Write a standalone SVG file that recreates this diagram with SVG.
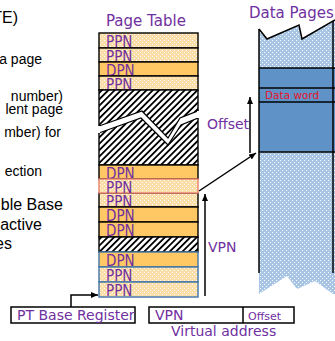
<svg xmlns="http://www.w3.org/2000/svg" width="335" height="341" viewBox="0 0 335 341">
  <style>
    .lbl { font-family: "DejaVu Sans", Verdana, sans-serif; fill: #7030A0; }
    .title { font-size: 15px; }
    .row { font-family: "DejaVu Sans Condensed", "DejaVu Sans", sans-serif; font-size: 15px; fill: #7030A0; }
    .side { font-family: "Liberation Sans", Arial, sans-serif; fill: #000; text-anchor: end; }
    .ppn { fill: url(#dotOrange); stroke: #000; stroke-width: 1.4; }
    .dpn { fill: #FFC864; stroke: #000; stroke-width: 1.4; }
    .blue { stroke: #3F74A8; }
    .pink { stroke: #E8806C; }
    .wire { fill: none; stroke: #000; stroke-width: 1.5; }
    .box { fill: #fff; stroke: #000; stroke-width: 1.5; }
  </style>
  <defs>
    <pattern id="dotOrange" width="4" height="4" patternUnits="userSpaceOnUse">
      <rect width="4" height="4" fill="#FBDDA8"/>
      <rect x="0" y="0" width="1" height="1" fill="#fff"/>
      <rect x="2" y="2" width="1" height="1" fill="#fff"/>
    </pattern>
    <pattern id="dotBlue" width="4" height="4" patternUnits="userSpaceOnUse">
      <rect width="4" height="4" fill="#A8C5E6"/>
      <rect x="0" y="0" width="1" height="1" fill="#fff"/>
      <rect x="2" y="2" width="1" height="1" fill="#fff"/>
    </pattern>
    <pattern id="hatch" width="4.5" height="4.5" patternUnits="userSpaceOnUse" patternTransform="rotate(45)">
      <rect width="4.5" height="4.5" fill="#fff"/>
      <rect width="1.8" height="4.5" fill="#000"/>
    </pattern>
    <marker id="arrow" markerWidth="8" markerHeight="8" refX="7" refY="4" orient="auto" markerUnits="userSpaceOnUse">
      <path d="M0,1 L7,4 L0,7 Z" fill="#000"/>
    </marker>
  </defs>

  <!-- side notes (cropped slide text) -->
  <g id="notes">
    <text class="side" x="18" y="23" font-size="16">TE)</text>
    <text class="side" x="42" y="64" font-size="14">a page</text>
    <text class="side" x="63" y="101" font-size="14">number)</text>
    <text class="side" x="63" y="114" font-size="14">lent page</text>
    <text class="side" x="61" y="137" font-size="14">mber) for</text>
    <text class="side" x="42" y="176" font-size="14">ection</text>
    <text class="side" x="63" y="210" font-size="16">ble Base</text>
    <text class="side" x="42" y="230" font-size="16">active</text>
    <text class="side" x="12" y="249" font-size="16">es</text>
  </g>

  <!-- page table -->
  <g id="page-table">
    <text class="lbl title" x="106" y="26">Page Table</text>
    <rect class="ppn" x="99" y="33" width="99" height="15"/>
    <text class="row" x="106" y="47">PPN</text>
    <rect class="ppn" x="99" y="48" width="99" height="14"/>
    <text class="row" x="106" y="61.5">PPN</text>
    <rect class="dpn" x="99" y="62" width="99" height="14"/>
    <text class="row" x="106" y="75.5">DPN</text>
    <rect class="ppn" x="99" y="76" width="99" height="14"/>
    <text class="row" x="106" y="89.5">PPN</text>

    <rect x="99" y="90" width="99" height="75" fill="url(#hatch)" stroke="#000" stroke-width="1.4"/>
    <polygon points="99,126 142,111 168,138 180,118 198,111 198,118 181,125 168,145 141,118 99,133" fill="#fff" stroke="#000" stroke-width="1.2"/>
    <line x1="99" y1="126" x2="99" y2="133" stroke="#fff" stroke-width="2"/>
    <line x1="198" y1="111" x2="198" y2="118" stroke="#fff" stroke-width="2"/>

    <rect class="dpn" x="99" y="165" width="99" height="14"/>
    <text class="row" x="106" y="178.5">DPN</text>
    <rect class="ppn" x="99" y="193" width="99" height="14"/>
    <text class="row" x="106" y="206.5">PPN</text>
    <rect class="ppn pink" x="99" y="179" width="99" height="14"/>
    <text class="row" x="106" y="192.5">PPN</text>
    <rect class="dpn" x="99" y="207" width="99" height="15"/>
    <text class="row" x="106" y="221">DPN</text>
    <rect class="dpn" x="99" y="222" width="99" height="15"/>
    <text class="row" x="106" y="236">DPN</text>
    <rect x="99" y="237" width="99" height="15" fill="url(#hatch)" stroke="#000" stroke-width="1.4"/>
    <rect class="dpn blue" x="99" y="252" width="99" height="15"/>
    <text class="row" x="106" y="266">DPN</text>
    <rect class="ppn blue" x="99" y="267" width="99" height="15"/>
    <text class="row" x="106" y="281">PPN</text>
    <rect class="ppn blue" x="99" y="282" width="99" height="15"/>
    <text class="row" x="106" y="296">PPN</text>
  </g>

  <!-- data pages -->
  <g id="data-pages">
    <text class="lbl title" x="249" y="18">Data Pages</text>
    <polygon points="259,29 267,39 299,25 302,39 335,20 335,68 259,68" fill="url(#dotBlue)"/>
    <rect x="259" y="68" width="76" height="84" fill="#5F93C7"/>
    <polygon points="259,152 335,152 335,294 333,294 315,281 297,289 287,276 259,294" fill="url(#dotBlue)"/>
    <polyline class="wire" points="259,29 267,39 299,25 302,39 335,20"/>
    <line class="wire" x1="259" y1="29" x2="259" y2="273"/>
    <line class="wire" x1="333" y1="21" x2="333" y2="273"/>
    <line class="wire" x1="259" y1="68" x2="335" y2="68"/>
    <line class="wire" x1="259" y1="88" x2="335" y2="88"/>
    <line class="wire" x1="259" y1="102" x2="335" y2="102"/>
    <line class="wire" x1="259" y1="152" x2="335" y2="152"/>
    <text x="265" y="99" font-family="DejaVu Sans, sans-serif" font-size="10.5" fill="#E8102A">Data word</text>
  </g>

  <!-- registers -->
  <g id="pt-base-register">
    <rect class="box" x="11" y="307" width="124" height="16"/>
    <text class="lbl" x="17" y="320" font-size="14">PT Base Register</text>
  </g>
  <g id="virtual-address">
    <rect class="box" x="149" y="307" width="145" height="16"/>
    <line class="wire" x1="243" y1="307" x2="243" y2="323"/>
    <text class="lbl" x="155" y="320" font-size="14">VPN</text>
    <text class="lbl" x="248" y="320" font-size="11">Offset</text>
    <text class="lbl" x="171" y="336" font-size="14">Virtual address</text>
  </g>

  <!-- connectors -->
  <g id="connectors">
    <polyline class="wire" points="71,307 71,295 98,295" marker-end="url(#arrow)"/>
    <line class="wire" x1="205" y1="296" x2="205" y2="194" marker-end="url(#arrow)"/>
    <text class="lbl" x="208" y="252" font-size="14">VPN</text>
    <line class="wire" x1="199" y1="191" x2="256" y2="153" marker-end="url(#arrow)"/>
    <line class="wire" x1="250" y1="153" x2="250" y2="97" marker-end="url(#arrow)"/>
    <text class="lbl" x="207" y="129" font-size="14">Offset</text>
  </g>
</svg>
